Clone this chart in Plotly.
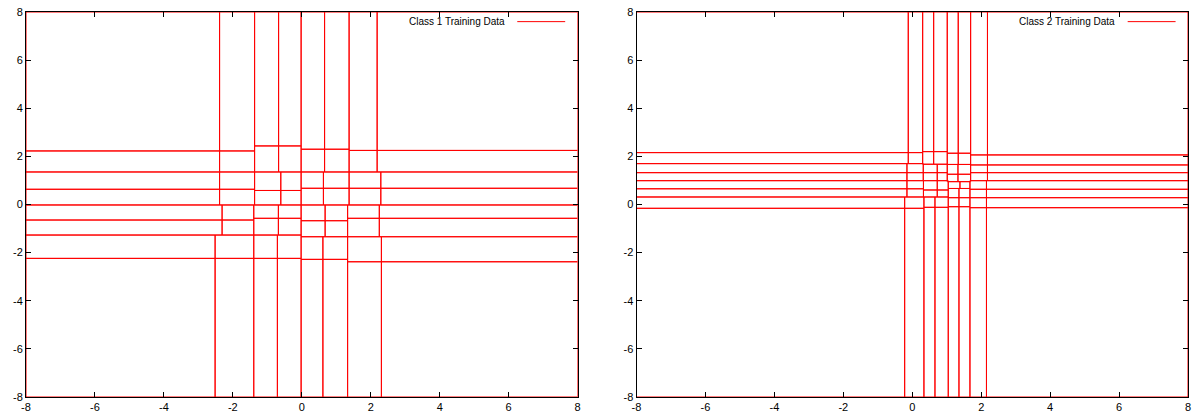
import plotly.graph_objects as go

# ---- Class 1: vertical split positions (7 interior edges) for each of 8 row bands (top -> bottom)
c1_row_xedges = [
    [-2.385, -1.369, -0.673, -0.02, 0.661, 1.372, 2.185],
    [-2.385, -1.369, -0.673, -0.02, 0.661, 1.372, 2.185],
    [-2.385, -1.369, -0.609, -0.02, 0.627, 1.372, 2.292],
    [-2.385, -1.369, -0.609, -0.02, 0.627, 1.372, 2.292],
    [-2.312, -1.393, -0.679, -0.02, 0.676, 1.329, 2.248],
    [-2.312, -1.393, -0.679, -0.02, 0.676, 1.329, 2.248],
    [-2.515, -1.393, -0.708, -0.02, 0.612, 1.329, 2.309],
    [-2.515, -1.393, -0.708, -0.02, 0.612, 1.329, 2.309],
]
# ---- Class 1: horizontal split positions (7 interior edges, top -> bottom) for each of 8 column bands
c1_col_yedges = [
    [2.226, 1.352, 0.633, -0.02, -0.645, -1.269, -2.239],
    [2.226, 1.352, 0.633, -0.02, -0.645, -1.269, -2.239],
    [2.434, 1.352, 0.583, -0.02, -0.574, -1.269, -2.239],
    [2.434, 1.352, 0.583, -0.02, -0.574, -1.269, -2.239],
    [2.297, 1.352, 0.674, -0.02, -0.674, -1.340, -2.280],
    [2.297, 1.352, 0.674, -0.02, -0.674, -1.340, -2.280],
    [2.247, 1.352, 0.674, -0.02, -0.574, -1.340, -2.380],
    [2.247, 1.352, 0.674, -0.02, -0.574, -1.340, -2.380],
]

# ---- Class 2
c2_row_xedges = [
    [-0.116, 0.302, 0.621, 1.015, 1.334, 1.694, 2.182],
    [-0.116, 0.302, 0.621, 1.015, 1.334, 1.694, 2.182],
    [-0.154, 0.319, 0.725, 1.015, 1.326, 1.694, 2.182],
    [-0.154, 0.319, 0.725, 1.015, 1.326, 1.694, 2.182],
    [-0.154, 0.325, 0.725, 1.044, 1.384, 1.674, 2.153],
    [-0.154, 0.325, 0.725, 1.044, 1.355, 1.674, 2.153],
    [-0.220, 0.339, 0.659, 1.044, 1.355, 1.674, 2.153],
    [-0.220, 0.339, 0.659, 1.044, 1.355, 1.674, 2.153],
]
c2_col_yedges = [
    [2.156, 1.698, 1.323, 0.990, 0.653, 0.312, -0.158],
    [2.156, 1.698, 1.323, 0.990, 0.653, 0.312, -0.158],
    [2.197, 1.673, 1.323, 0.990, 0.603, 0.312, -0.117],
    [2.197, 1.673, 1.323, 0.990, 0.603, 0.312, -0.117],
    [2.131, 1.665, 1.257, 0.949, 0.666, 0.283, -0.092],
    [2.131, 1.665, 1.257, 0.949, 0.666, 0.283, -0.092],
    [2.060, 1.644, 1.323, 0.990, 0.633, 0.283, -0.133],
    [2.060, 1.644, 1.323, 0.990, 0.633, 0.283, -0.133],
]

axis_min, axis_max = -8, 8
tick_values = [-8, -6, -4, -2, 0, 2, 4, 6, 8]
tick_labels = ["-8", "-6", "-4", "-2", "0", "2", "4", "6", "8"]
legend_names = ["Class 1 Training Data", "Class 2 Training Data"]


def cell_outlines(row_xedges, col_yedges):
    xs, ys = [], []
    n = len(row_xedges)
    for r in range(n):
        xe = [axis_min] + row_xedges[r] + [axis_max]
        for c in range(len(col_yedges)):
            ye = [axis_max] + col_yedges[c] + [axis_min]
            x0, x1 = xe[c], xe[c + 1]
            y0, y1 = ye[r], ye[r + 1]
            xs += [x0, x1, x1, x0, x0, None]
            ys += [y0, y0, y1, y1, y0, None]
    return xs, ys


fig = go.Figure()
for i, (rx, cy) in enumerate([(c1_row_xedges, c1_col_yedges), (c2_row_xedges, c2_col_yedges)]):
    xs, ys = cell_outlines(rx, cy)
    fig.add_trace(go.Scatter(
        x=xs, y=ys, mode="lines", name=legend_names[i],
        line=dict(color="#ff0000", width=1), showlegend=False,
        xaxis="x" if i == 0 else "x2", yaxis="y" if i == 0 else "y2",
        hoverinfo="skip"))

W, H = 1195, 414
ml, mr, mt, mb = 26, 7, 12, 17
pw = W - ml - mr
d1 = (577.6 - ml) / pw
d2 = (636.5 - ml) / pw

axis_common = dict(
    range=[axis_min, axis_max], tickvals=tick_values, ticktext=tick_labels,
    ticks="inside", ticklen=5,
    tickcolor="black", tickwidth=1, showline=True, linecolor="black", linewidth=1,
    mirror="ticks", showgrid=False, zeroline=False, fixedrange=True, automargin=False,
    tickfont=dict(family="Liberation Sans, Arial, sans-serif", size=11, color="black"),
)

fig.update_layout(
    width=W, height=H, margin=dict(l=ml, r=mr, t=mt, b=mb, autoexpand=False),
    paper_bgcolor="white", plot_bgcolor="white",
    xaxis=dict(domain=[0, d1], anchor="y", **axis_common),
    yaxis=dict(domain=[0, 1], anchor="x", **axis_common),
    xaxis2=dict(domain=[d2, 1], anchor="y2", **axis_common),
    yaxis2=dict(domain=[0, 1], anchor="x2", **axis_common),
    showlegend=False,
)

# gnuplot-style key: text right-aligned, line sample on the right
for i, (xr, yr) in enumerate([("x", "y"), ("x2", "y2")]):
    fig.add_annotation(x=5.95, y=7.6, xref=xr, yref=yr, text=legend_names[i],
                       showarrow=False, xanchor="right", yanchor="middle",
                       font=dict(family="Liberation Sans, Arial, sans-serif", size=10, color="black"))
    fig.add_shape(type="line", xref=xr, yref=yr, x0=6.25, x1=7.64, y0=7.6, y1=7.6,
                  line=dict(color="#ff0000", width=1))

fig.write_html("out.html", config={"displayModeBar": False, "responsive": False},
               post_script="document.body.style.margin='0';document.body.style.overflow='hidden';")
